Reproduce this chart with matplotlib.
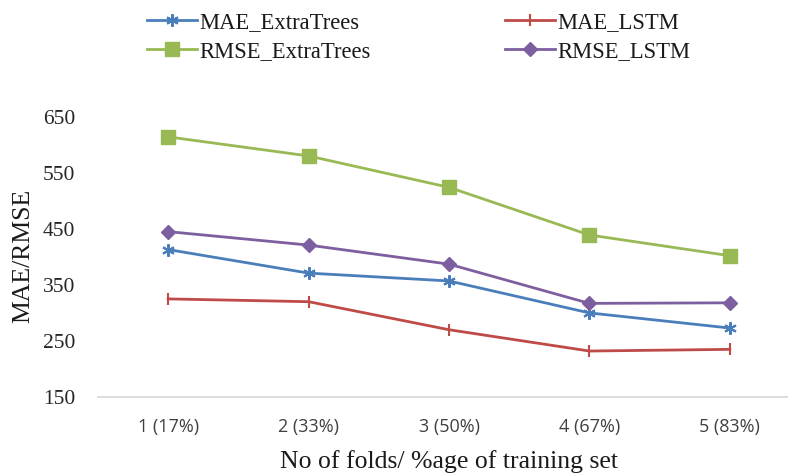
import matplotlib
matplotlib.use("Agg")
import matplotlib.pyplot as plt

categories = ['1 (17%)', '2 (33%)', '3 (50%)', '4 (67%)', '5 (83%)']
mae_extratrees = [413, 371, 357, 300, 273]
mae_lstm = [325, 320, 270, 232, 235]
rmse_extratrees = [614, 580, 524, 439, 402]
rmse_lstm = [445, 421, 387, 317, 318]
yticks = [150, 250, 350, 450, 550, 650]

W, H = 788, 475
fig = plt.figure(figsize=(W / 100, H / 100), dpi=100)
ax = fig.add_axes([98 / W, 1 - 397 / H, 702 / W, (397 - 116.7) / H])

serif = 'Liberation Serif'
c_blue = '#4a7ebb'
c_red = '#be4b48'
c_green = '#98b954'
c_purple = '#7d5fa0'

x = list(range(1, len(categories) + 1))
lw = 2.0
l1, = ax.plot(x, mae_extratrees, color=c_blue, lw=lw, marker=(6, 2, 0), ms=9, mew=1.5,
              mec=c_blue, label='MAE_ExtraTrees')
l2, = ax.plot(x, mae_lstm, color=c_red, lw=lw, marker='|', ms=8.5, mew=1.5,
              mec=c_red, label='MAE_LSTM')
l3, = ax.plot(x, rmse_extratrees, color=c_green, lw=lw, marker='s', ms=9.5,
              mec=c_green, mfc=c_green, label='RMSE_ExtraTrees')
l4, = ax.plot(x, rmse_lstm, color=c_purple, lw=lw, marker='D', ms=7,
              mec=c_purple, mfc=c_purple, label='RMSE_LSTM')

ax.set_xlim(0.5, len(categories) + 0.5)
ax.set_ylim(150, 650)
ax.set_yticks(yticks)
ax.set_yticklabels([str(v) for v in yticks], fontfamily=serif, fontsize=15.5, color='#262626')
ax.set_xticks(x)
ax.set_xticklabels(categories, fontfamily='Open Sans', fontsize=13, color='#404040')
ax.tick_params(axis='both', length=0)
ax.tick_params(axis='y', pad=16.5)
ax.tick_params(axis='x', pad=15)
for s in ['top', 'right', 'left']:
    ax.spines[s].set_visible(False)
ax.spines['bottom'].set_color('#d9d9d9')
ax.spines['bottom'].set_linewidth(1.3)

fig.text(449.5 / W, 1 - 468 / H, 'No of folds/ %age of training set', ha='center', va='baseline',
         fontfamily=serif, fontsize=18.5, color='#1a1a1a')
fig.text(23 / W, 1 - 256 / H, 'MAE/RMSE', ha='center', va='center', rotation=90,
         fontfamily=serif, fontsize=18.5, color='#1a1a1a')

leg_kw = dict(loc='center left', frameon=False, borderpad=0, borderaxespad=0,
              handlelength=2.2, handletextpad=0.1, labelspacing=0.38,
              prop={'family': serif, 'size': 16.3})
leg1 = fig.legend([l1, l3], ['MAE_ExtraTrees', 'RMSE_ExtraTrees'],
                  bbox_to_anchor=(147 / W, 1 - 37 / H), **leg_kw)
leg2 = fig.legend([l2, l4], ['MAE_LSTM', 'RMSE_LSTM'],
                  bbox_to_anchor=(505 / W, 1 - 37 / H), **leg_kw)
for lg in (leg1, leg2):
    for t in lg.get_texts():
        t.set_color('#1a1a1a')

fig.savefig('out.png', dpi=100)
